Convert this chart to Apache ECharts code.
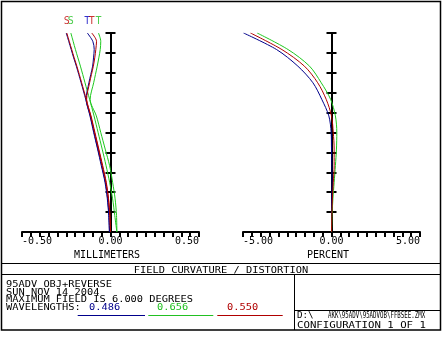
<!DOCTYPE html>
<html>
<head>
<meta charset="utf-8">
<script src="https://cdn.jsdelivr.net/npm/echarts@6/dist/echarts.min.js"></script>
<style>
  html, body { margin: 0; padding: 0; background: #fff; }
  #chart { width: 442px; height: 342px; }
</style>
</head>
<body>
<div id="chart"></div>
<script>
// field angles (degrees), shared by both plots
var fieldsFc = [0, 0.5, 1, 1.5, 2, 2.5, 3, 3.5, 4, 4.5, 5, 5.25, 5.5, 5.75, 6];
// field curvature, millimeters
var sagBlue  = [-0.006, -0.010, -0.018, -0.031, -0.052, -0.073, -0.095, -0.116, -0.140, -0.166, -0.193, -0.208, -0.222, -0.236, -0.250];
var tanBlue  = [-0.006, -0.009, -0.016, -0.029, -0.049, -0.071, -0.093, -0.114, -0.138, -0.122, -0.101, -0.096, -0.092, -0.100, -0.131];
var sagGreen = [0.036, 0.024, 0.012, -0.005, -0.025, -0.047, -0.070, -0.093, -0.118, -0.144, -0.170, -0.184, -0.198, -0.211, -0.224];
var tanGreen = [0.036, 0.034, 0.026, 0.012, -0.005, -0.030, -0.055, -0.080, -0.115, -0.095, -0.075, -0.066, -0.058, -0.055, -0.068];
var sagRed   = [0, -0.004, -0.012, -0.026, -0.047, -0.068, -0.090, -0.112, -0.137, -0.163, -0.190, -0.205, -0.219, -0.233, -0.247];
var tanRed   = [0, -0.003, -0.011, -0.024, -0.044, -0.066, -0.088, -0.110, -0.135, -0.118, -0.097, -0.089, -0.083, -0.079, -0.106];

// distortion, percent
var fieldsDist = [0, 0.5, 1, 1.5, 2, 2.5, 3, 3.5, 4, 4.5, 5, 5.5, 6];
var distBlue  = [0, 0, 0.02, 0.03, 0.02, 0, -0.02, -0.15, -0.55, -1.05, -1.9, -3.1, -4.97];
var distGreen = [0, 0.03, 0.08, 0.15, 0.22, 0.28, 0.30, 0.22, -0.05, -0.58, -1.24, -2.45, -4.2];
var distRed   = [0, 0.02, 0.05, 0.10, 0.15, 0.15, 0.10, 0.0, -0.3, -0.78, -1.53, -2.8, -4.58];

var wavelengths = ['0.486', '0.656', '0.550'];
var headerLines = ['95ADV_OBJ+REVERSE', 'SUN NOV 14 2004', 'MAXIMUM FIELD IS 6.000 DEGREES'];

var BLUE = '#00008b', GREEN = '#1ec81e', RED = '#b00000';
var MONO = 'DejaVu Sans Mono';
var PLOT_W = 177;

function pairs(xs, ys) {
  return xs.map(function (x, i) { return [x, ys[i]]; });
}
function last(arr) { return arr[arr.length - 1]; }

function curve(name, color, xs, ys, g) {
  return {
    name: name, type: 'line', xAxisIndex: g, yAxisIndex: g * 2,
    data: pairs(xs, ys), symbol: 'none', smooth: 0.3,
    lineStyle: { color: color, width: 1 }, silent: true, animation: false
  };
}

// S / T markers above the top end of each curve
function marker(txt, color, x) {
  return {
    type: 'scatter', xAxisIndex: 0, yAxisIndex: 0, symbolSize: 1,
    itemStyle: { color: 'rgba(0,0,0,0)' }, animation: false, silent: true,
    data: [[x, last(fieldsFc)]],
    label: { show: true, position: 'top', distance: 6, formatter: txt,
      color: color, fontFamily: MONO, fontSize: 10 }
  };
}

function xAxisDef(g, min, max, step, name) {
  return {
    type: 'value', gridIndex: g, min: min, max: max, interval: step,
    name: name, nameLocation: 'middle', nameGap: 13,
    nameTextStyle: { color: '#000', fontFamily: MONO, fontSize: 10, padding: [0, 7, 0, 0] },
    axisLine: { onZero: false, lineStyle: { color: '#000', width: 2 } },
    axisTick: { length: 5, lineStyle: { color: '#000', width: 2 } },
    splitLine: { show: false },
    axisLabel: {
      color: '#000', fontFamily: MONO, fontSize: 10, margin: 4,
      alignMinLabel: 'left', alignMaxLabel: 'right',
      formatter: function (v) {
        return Math.round(v / step) % 10 === 0 ? v.toFixed(2) : '';
      }
    }
  };
}

// vertical axis sits on x = 0 (middle of the plot); two copies give ticks on both sides
function yAxisDef(g, inside) {
  return {
    type: 'value', gridIndex: g, min: 0, max: 6, interval: 0.6,
    position: 'left', offset: -PLOT_W / 2,
    axisLine: { onZero: false, lineStyle: { color: '#000', width: 2 } },
    axisTick: { inside: inside, length: 5, lineStyle: { color: '#000', width: 2 } },
    axisLabel: { show: false }, splitLine: { show: false }
  };
}

// footer text: small font stretched sideways, like the plotter font
function txt(x, y, s, color, opts) {
  opts = opts || {};
  return {
    type: 'text', x: x, y: y, scaleX: opts.sx || 1.15, scaleY: 1,
    style: { text: s, fill: color || '#000', font: (opts.size || 9) + 'px "' + MONO + '"',
      textAlign: opts.align || 'left', textVerticalAlign: 'middle' }
  };
}
function hline(x1, x2, y, color, w) {
  return { type: 'line', shape: { x1: x1, y1: y, x2: x2, y2: y },
    style: { stroke: color || '#000', lineWidth: w || 1 } };
}
function vline(x, y1, y2) {
  return { type: 'line', shape: { x1: x, y1: y1, x2: x, y2: y2 },
    style: { stroke: '#000', lineWidth: 1 } };
}

var graphics = [
  { type: 'rect', shape: { x: 1.5, y: 1.5, width: 439, height: 328.5 },
    style: { fill: 'none', stroke: '#000', lineWidth: 1.5 } },
  hline(1, 441, 263.5), hline(1, 441, 274.5),
  vline(294.5, 274.5, 330), hline(294.5, 441, 310.5),
  txt(221, 270.3, 'FIELD CURVATURE / DISTORTION', '#000', { align: 'center' }),
  txt(297, 316.3, 'D:\\', '#000', { size: 8 }),
  txt(328, 316.3, 'AKK\\95ADV\\95ADVOB\\FFBSEE.ZMX', '#000', { size: 8, sx: 0.72 }),
  txt(297, 325.8, 'CONFIGURATION 1 OF 1', '#000', { sx: 1.19 }),
  txt(6, 307.8, 'WAVELENGTHS:', '#000')
];
headerLines.forEach(function (s, i) {
  graphics.push(txt(6, 285 + i * 7.5, s, '#000'));
});
var wlColors = [BLUE, '#22c022', RED];
var wlX = [89, 157, 227];
var ulX = [[77.7, 145], [148.3, 213.3], [217.3, 282.7]];
wavelengths.forEach(function (w, i) {
  graphics.push(txt(wlX[i], 307.8, w, wlColors[i]));
  graphics.push(hline(ulX[i][0], ulX[i][1], 315.5, wlColors[i], 1));
});

var chart = echarts.init(document.getElementById('chart'), null, { renderer: 'canvas' });
chart.setOption({
  backgroundColor: '#fff',
  animation: false,
  grid: [
    { left: 22, top: 33, width: PLOT_W, height: 199 },
    { left: 243, top: 33, width: PLOT_W, height: 199 }
  ],
  xAxis: [
    xAxisDef(0, -0.5, 0.5, 0.05, 'MILLIMETERS'),
    xAxisDef(1, -5, 5, 0.5, 'PERCENT')
  ],
  yAxis: [yAxisDef(0, false), yAxisDef(0, true), yAxisDef(1, false), yAxisDef(1, true)],
  series: [
    curve('S 0.486', BLUE, sagBlue, fieldsFc, 0),
    curve('T 0.486', BLUE, tanBlue, fieldsFc, 0),
    curve('S 0.656', GREEN, sagGreen, fieldsFc, 0),
    curve('T 0.656', GREEN, tanGreen, fieldsFc, 0),
    curve('S 0.550', RED, sagRed, fieldsFc, 0),
    curve('T 0.550', RED, tanRed, fieldsFc, 0),
    curve('D 0.486', BLUE, distBlue, fieldsDist, 1),
    curve('D 0.656', GREEN, distGreen, fieldsDist, 1),
    curve('D 0.550', RED, distRed, fieldsDist, 1),
    marker('S', '#20c020', last(sagGreen)),
    marker('S', '#c00000', last(sagRed)),
    marker('T', '#0000c0', last(tanBlue)),
    marker('T', '#c00000', last(tanRed)),
    marker('T', '#20c020', last(tanGreen))
  ],
  graphic: graphics
});
</script>
</body>
</html>
